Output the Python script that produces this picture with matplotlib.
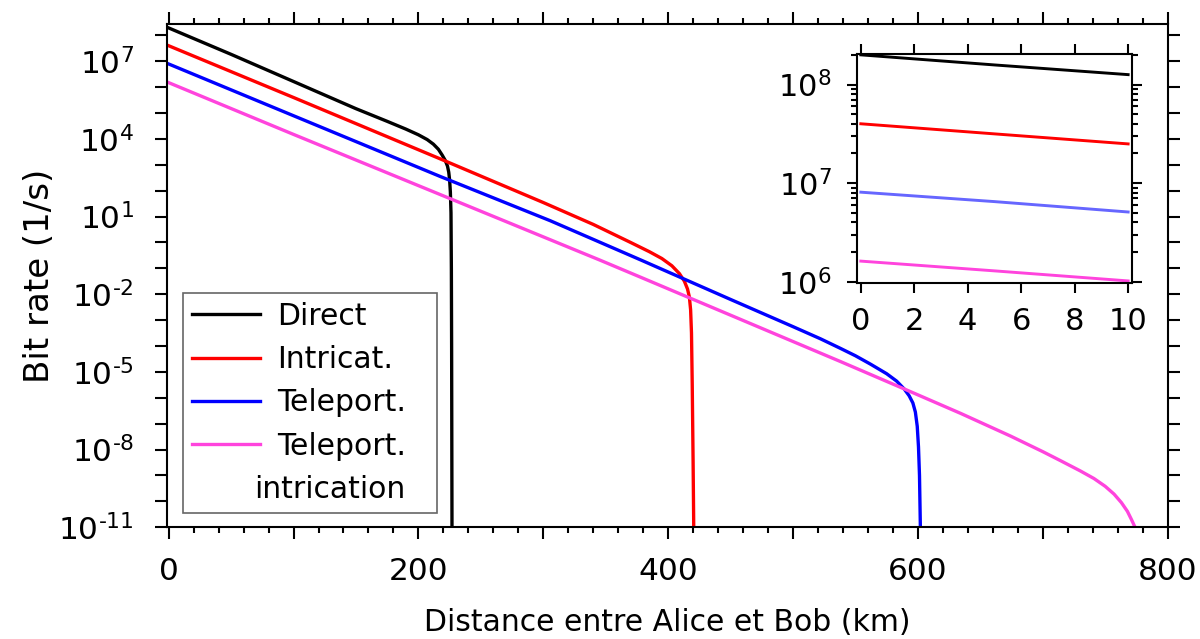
import matplotlib
matplotlib.use("Agg")
import matplotlib.pyplot as plt
from matplotlib.ticker import LogLocator, FuncFormatter, NullLocator, MultipleLocator, NullFormatter
import numpy as np

plt.rcParams['font.family'] = ['DejaVu Sans']
plt.rcParams['mathtext.fontset'] = 'dejavusans'
plt.rcParams['mathtext.default'] = 'regular'

# main plot data: distance (km) and bit rate (1/s)
direct_km = [0, 50, 100, 150, 175, 190, 200, 207, 212, 216, 219, 221.5, 223.3, 224.3,
             225.0, 225.6, 226.1, 226.4, 226.6, 226.9]
direct_rate = [1.95e8, 1.86e7, 1.66e6, 1.48e5, 4.8e4, 2.4e4, 1.45e4, 9.5e3, 6.3e3, 4.0e3,
               2.4e3, 1.48e3, 8.9e2, 5.2e2, 2.6e2, 89, 14, 0.1, 1e-4, 1e-11]

intricat_km = [0, 100, 217.5, 300, 340, 370, 385, 395, 403, 409, 413, 415.5, 417, 418,
               418.7, 419.3, 420, 420.5]
intricat_rate = [4.0e7, 4.0e5, 1.7e3, 35, 5.0, 1.0, 0.44, 0.24, 0.126, 0.063, 0.032, 0.016,
                 7.9e-3, 2.5e-3, 3.2e-4, 3.2e-6, 3.2e-9, 1e-11]

teleport_km = [0, 100, 217.5, 305.7, 378.2, 450, 500, 522, 538, 550, 562, 575, 583, 589,
               593, 596, 598, 599.5, 600.5, 601.3, 602]
teleport_rate = [7.9e6, 7.9e4, 355, 6.9, 0.21, 6.3e-3, 5.6e-4, 1.9e-4, 8.1e-5, 4.2e-5, 2.0e-5,
                 8.5e-6, 4.4e-6, 2.2e-6, 1.2e-6, 6.3e-7, 2.8e-7, 7.9e-8, 1.26e-8, 1e-9, 1e-11]

tel_intric_km = [0, 100, 217.5, 345.2, 378.2, 538.1, 590, 634.2, 674.3, 700, 714.3, 730,
                 741, 750, 757.1, 763, 767.8, 771, 773.5, 775]
tel_intric_rate = [1.5e6, 1.5e4, 71, 0.21, 0.045, 2.5e-5, 2.1e-6, 2.5e-7, 3.3e-8, 8.3e-9,
                   3.7e-9, 1.5e-9, 7.6e-10, 3.8e-10, 1.9e-10, 8.9e-11, 4.1e-11, 2.0e-11,
                   1.1e-11, 8e-12]

# inset data (0-10 km zoom)
inset_km = [0, 5, 10]
inset_direct = [2.0e8, 1.58e8, 1.26e8]
inset_intricat = [4.0e7, 3.16e7, 2.5e7]
inset_teleport = [8.1e6, 6.5e6, 5.1e6]
inset_tel_intric = [1.62e6, 1.29e6, 1.02e6]

labels = ['Direct', 'Intricat.', 'Teleport.', 'Teleport.']
colors = ['black', '#ff0000', '#0000ff', '#ff44dd']


def pow10(e):
    # short hyphen for negative exponents, like the original
    s = str(e).replace('-', '\u2010')
    return r'$10^{%s}$' % s


fig = plt.figure(figsize=(12, 6.39), dpi=100)
ax = fig.add_axes([0.139, 0.175, 0.834, 0.787])

series = [(direct_km, direct_rate), (intricat_km, intricat_rate),
          (teleport_km, teleport_rate), (tel_intric_km, tel_intric_rate)]
for (xs, ys), c, lab in zip(series, colors, labels):
    ax.plot(xs, ys, color=c, lw=2.4, label=lab)

ax.set_yscale('log')
ax.set_xlim(-1.5, 800)
ax.set_ylim(1e-11, 2.7e8)

ax.xaxis.set_major_locator(MultipleLocator(100))
ax.xaxis.set_minor_locator(MultipleLocator(20))
ax.xaxis.set_major_formatter(FuncFormatter(lambda v, p: '%d' % v if int(round(v)) % 200 == 0 else ''))
ax.yaxis.set_major_locator(LogLocator(base=10, numticks=40))
ax.yaxis.set_minor_locator(NullLocator())


def yfmt(v, p):
    e = int(round(np.log10(v)))
    if e % 3 == 1:
        return pow10(e)
    return ''


ax.yaxis.set_major_formatter(FuncFormatter(yfmt))
ax.tick_params(which='both', direction='out', top=True, right=True, width=1.5)
ax.tick_params(which='major', length=8.5)
ax.tick_params(which='minor', length=4)
ax.tick_params(axis='x', pad=13, labelsize=22.5)
ax.tick_params(axis='y', pad=15, labelsize=22.5)
for s in ax.spines.values():
    s.set_linewidth(1.5)

ax.set_xlabel('Distance entre Alice et Bob (km)', fontsize=21.5, labelpad=16)
ax.set_ylabel('Bit rate (1/s)', fontsize=24.5, labelpad=2)

# legend: the 5th entry is the second line of the last label
blank = plt.Line2D([], [], color='none')
handles, labs = ax.get_legend_handles_labels()
handles.append(blank)
labs.append('intrication')
leg = ax.legend(handles, labs, loc='lower left', bbox_to_anchor=(0.016, 0.028),
                borderaxespad=0, fontsize=21.5, frameon=True, fancybox=False,
                edgecolor='#666666', framealpha=1, handlelength=2.3,
                handletextpad=0.55, labelspacing=0.48, borderpad=0.3)
leg.get_frame().set_linewidth(1.2)
leg.get_texts()[4].set_position((-23, 0))

# inset
axin = fig.add_axes([0.714, 0.557, 0.229, 0.3585])
axin.plot(inset_km, inset_direct, color='black', lw=2.1)
axin.plot(inset_km, inset_intricat, color='#ff0000', lw=2.1)
axin.plot(inset_km, inset_teleport, color='#6666ff', lw=2.1)
axin.plot(inset_km, inset_tel_intric, color='#ff44dd', lw=2.1)
axin.set_yscale('log')
axin.set_xlim(-0.15, 10.13)
axin.set_ylim(0.97e6, 2.04e8)
axin.xaxis.set_major_locator(MultipleLocator(2))
axin.yaxis.set_major_locator(LogLocator(base=10, numticks=10))
axin.yaxis.set_major_formatter(FuncFormatter(lambda v, p: pow10(int(round(np.log10(v))))))
axin.yaxis.set_minor_locator(LogLocator(base=10, subs=np.arange(2, 10), numticks=20))
axin.yaxis.set_minor_formatter(NullFormatter())
axin.tick_params(which='both', direction='out', top=True, right=True, width=1.5, labelsize=22)
axin.tick_params(which='major', length=7)
axin.tick_params(which='minor', length=4)
axin.tick_params(axis='x', pad=10)
axin.tick_params(axis='y', pad=11)
for s in axin.spines.values():
    s.set_linewidth(1.5)

fig.savefig('out.png', dpi=100)
